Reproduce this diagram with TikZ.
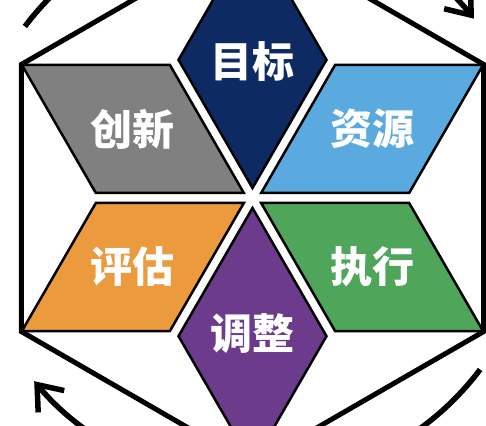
\documentclass[tikz,border=0pt]{standalone}
\usepackage{fontspec}
\newfontfamily\cjk{Noto Sans CJK SC}
\usetikzlibrary{arrows.meta}
\definecolor{goalnavy}{HTML}{0E2A62}
\definecolor{resblue}{HTML}{5AAAE0}
\definecolor{execgreen}{HTML}{4FA65B}
\definecolor{adjpurple}{HTML}{6C3B8C}
\definecolor{evalorange}{HTML}{EB9A3E}
\definecolor{innogray}{HTML}{808080}

\begin{document}
\begin{tikzpicture}[
	x=1pt, y=1pt,
	rhomb/.style={draw=black, line width=2.5pt, line join=miter},
	word/.style={text=white, font=\cjk\bfseries\fontsize{42}{42}\selectfont},
	turn/.style={line width=5.5pt, -{Straight Barb[length=22pt,width=34pt,line join=miter]}}]
\useasboundingbox (0,0) rectangle (486,425);
\begin{scope}[shift={(252.5,227)}]
% outer hexagon
\draw[line width=5pt] (30:267) -- (90:267) -- (150:267) -- (210:267)
	-- (270:267) -- (330:267) -- cycle;
% six rhombi round the centre
\filldraw[rhomb, fill=goalnavy] (90:10) -- ++(60:148) -- ++(120:148) -- ++(240:148) -- cycle;
\filldraw[rhomb, fill=resblue] (30:10) -- ++(0:148) -- ++(60:148) -- ++(180:148) -- cycle;
\filldraw[rhomb, fill=execgreen] (-30:10) -- ++(-60:148) -- ++(0:148) -- ++(120:148) -- cycle;
\filldraw[rhomb, fill=adjpurple] (-90:10) -- ++(-120:148) -- ++(-60:148) -- ++(60:148) -- cycle;
\filldraw[rhomb, fill=evalorange] (210:10) -- ++(180:148) -- ++(240:148) -- ++(360:148) -- cycle;
\filldraw[rhomb, fill=innogray] (150:10) -- ++(120:148) -- ++(180:148) -- ++(300:148) -- cycle;
% labels
\node[word] (goal) at (90:136) {目标};
\node[word] (res) at (30:138) {资源};
\node[word] (exec) at (-30:138) {执行};
\node[word] (adj) at (-90:136) {调整};
\node[word] (eval) at (210:138) {评估};
\node[word] (inno) at (150:138) {创新};
% arrows round the hexagon
\draw[turn] (143:285) arc[start angle=143, end angle=39, radius=285];
\draw[turn] (-37:285) arc[start angle=-37, end angle=-140, radius=285];
\end{scope}
\end{tikzpicture}
\end{document}
